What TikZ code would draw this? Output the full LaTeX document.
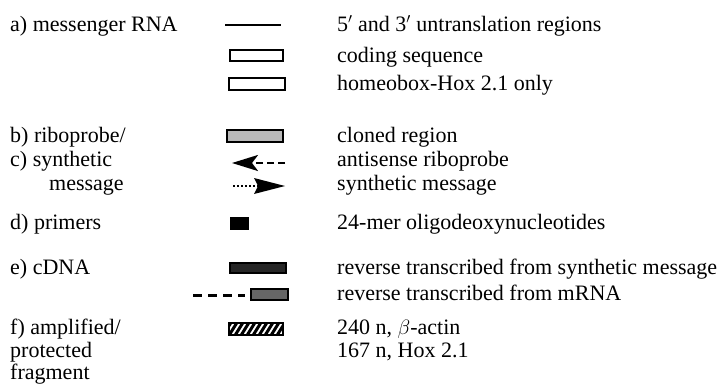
\documentclass[tikz,border=0pt]{standalone}
\usepackage{fontspec}
\setmainfont{Liberation Serif}
\usetikzlibrary{arrows.meta}

\begin{document}
\begin{tikzpicture}[x=1pt,y=-1pt,
	lbl/.style={anchor=base west,inner sep=0pt,font=\fontsize{22}{24}\selectfont},
	frame/.style={draw,line width=2pt}]
	\useasboundingbox (0,0) rectangle (720,386);
	% left column
	\node[lbl] (mrna) at (10,31) {a) messenger RNA};
	\node[lbl] (ribo) at (10,142) {b) riboprobe/};
	\node[lbl] (synth) at (10,166) {c) synthetic};
	\node[lbl] (mess) at (49,190) {message};
	\node[lbl] (prim) at (10,229) {d) primers};
	\node[lbl] (cdna) at (10,274) {e) cDNA};
	\node[lbl] (ampl) at (10,334) {f) amplified/};
	\node[lbl] (prot) at (10,357) {protected};
	\node[lbl] (frag) at (10,379) {fragment};
	% symbols
	\draw[line width=2pt] (225,25) -- (281,25);
	\draw[frame] (230,50) rectangle (283,61);
	\draw[frame] (229,78) rectangle (285,90);
	\draw[frame,fill=gray!55] (227,130) rectangle (283,142);
	\draw[line width=2.5pt,dash pattern=on 7pt off 4pt,-{Stealth[length=26pt,width=16pt,inset=6pt]}]
		(285,163) -- (232,163);
	\draw[line width=2pt,dotted] (233,186) -- (262,186);
	\fill (258,186) -- (254,178) -- (285,186) -- (254,194) -- cycle;
	\fill (230,217) rectangle (249,230);
	\draw[frame,fill=black!85] (230,263) rectangle (286,273);
	\draw[line width=3pt,dash pattern=on 9pt off 6pt] (193,295) -- (245,295);
	\draw[frame,line width=2.5pt,fill=black!60] (251,289) rectangle (288,300);
	\begin{scope}
		\clip (229,323) rectangle (283,335);
		\foreach \i in {0,...,11}
			\draw[line width=3pt] (222+6*\i,337) -- (232+6*\i,321);
	\end{scope}
	\draw[frame] (229,323) rectangle (283,335);
	% right column
	\node[lbl] (utr) at (337,31) {5$'$ and 3$'$ untranslation regions};
	\node[lbl] (cod) at (337,62) {coding sequence};
	\node[lbl] (hbox) at (337,90) {homeobox-Hox 2.1 only};
	\node[lbl] (clon) at (337,142) {cloned region};
	\node[lbl] (anti) at (337,166) {antisense riboprobe};
	\node[lbl] (smsg) at (337,190) {synthetic message};
	\node[lbl] (oligo) at (337,229) {24-mer oligodeoxynucleotides};
	\node[lbl] (rts) at (337,274) {reverse transcribed from synthetic message};
	\node[lbl] (rtm) at (337,300) {reverse transcribed from mRNA};
	\node[lbl] (actin) at (337,334) {240 n, $\beta$-actin};
	\node[lbl] (hox) at (337,357) {167 n, Hox 2.1};
\end{tikzpicture}
\end{document}
